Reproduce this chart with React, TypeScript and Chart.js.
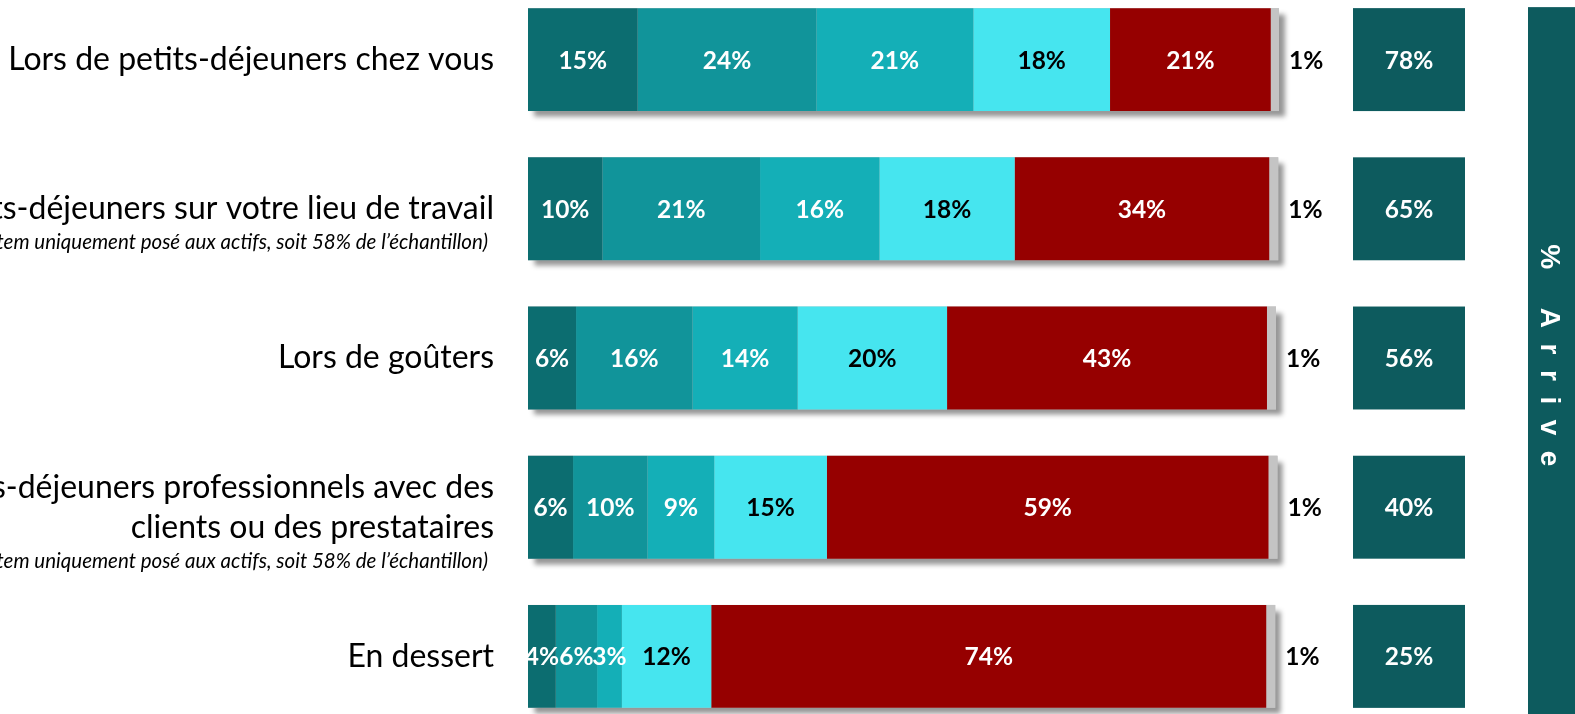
import React, { useEffect, useRef } from 'react';
import { Chart, registerables } from 'chart.js';

Chart.register(...registerables);

// ---- Data ----
const categories: string[][] = [
  ['Lors de petits-déjeuners chez vous'],
  ['Lors de petits-déjeuners sur votre lieu de travail'],
  ['Lors de goûters'],
  ['Lors de petits-déjeuners professionnels avec des', 'clients ou des prestataires'],
  ['En dessert'],
];
const notes: string[] = [
  '',
  '(Item uniquement posé aux actifs, soit 58% de l’échantillon)',
  '',
  '(Item uniquement posé aux actifs, soit 58% de l’échantillon)',
  '',
];
const seriesNames: string[] = [
  'Très souvent',
  'Souvent',
  'De temps en temps',
  'Rarement',
  'Jamais',
  'Ne se prononce pas',
];
const tresSouvent: number[] = [14.6, 9.9, 6.4, 6.0, 3.7];
const souvent: number[] = [23.8, 21.0, 15.5, 9.9, 5.5];
const deTempsEnTemps: number[] = [20.9, 15.9, 14.0, 8.9, 3.3];
const rarement: number[] = [18.2, 18.0, 19.9, 15.0, 11.9];
const jamais: number[] = [21.4, 33.9, 42.6, 58.8, 73.9];
const nsp: number[] = [1.1, 1.2, 1.2, 1.2, 1.2];
const arrive: number[] = [78, 65, 56, 40, 25];
const arriveTitle = '% Arrive';

// ---- Styles ----
const seriesColors = ['#0C6D70', '#11949A', '#14AFB7', '#46E5EF', '#960000', '#C4C4C4'];
const labelColors = ['#FFFFFF', '#FFFFFF', '#FFFFFF', '#000000', '#FFFFFF', '#000000'];
const boxColor = '#0D5B5E';
const FONT = 'Lato';

const decorPlugin = {
  id: 'decor',
  beforeDatasetsDraw(chart: any) {
    const ctx = chart.ctx;
    const n = chart.data.datasets.length;
    const first = chart.getDatasetMeta(0);
    const last = chart.getDatasetMeta(n - 1);
    const x0 = chart.scales.x.getPixelForValue(0);
    ctx.save();
    ctx.shadowColor = 'rgba(0,0,0,0.42)';
    ctx.shadowBlur = 5;
    ctx.shadowOffsetX = 6;
    ctx.shadowOffsetY = 6;
    ctx.fillStyle = '#bdbdbd';
    first.data.forEach((bar: any, i: number) => {
      const p = bar.getProps(['y', 'height'], true);
      const e = last.data[i].getProps(['x'], true);
      ctx.fillRect(x0, p.y - p.height / 2, e.x - x0, p.height);
    });
    ctx.restore();
  },
  afterDatasetsDraw(chart: any) {
    const ctx = chart.ctx;
    const n = chart.data.datasets.length;
    const area = chart.chartArea;
    ctx.save();
    // segment labels
    ctx.font = `bold 24.5px ${FONT}`;
    ctx.textBaseline = 'middle';
    for (let d = 0; d < n; d++) {
      const meta = chart.getDatasetMeta(d);
      const values = chart.data.datasets[d].data as number[];
      meta.data.forEach((bar: any, i: number) => {
        const p = bar.getProps(['x', 'y', 'base'], true);
        const txt = `${Math.round(values[i])}%`;
        ctx.fillStyle = labelColors[d];
        if (d === n - 1) {
          ctx.textAlign = 'left';
          ctx.fillText(txt, p.x + 10, p.y + 1);
        } else {
          ctx.textAlign = 'center';
          ctx.fillText(txt, (p.x + p.base) / 2, p.y + 1);
        }
      });
    }
    // % Arrive cells
    const first = chart.getDatasetMeta(0);
    const boxLeft = area.right + 74;
    const boxW = 112;
    first.data.forEach((bar: any, i: number) => {
      const p = bar.getProps(['y', 'height'], true);
      ctx.fillStyle = boxColor;
      ctx.fillRect(boxLeft, p.y - p.height / 2, boxW, p.height);
      ctx.fillStyle = '#FFFFFF';
      ctx.textAlign = 'center';
      ctx.fillText(`${arrive[i]}%`, boxLeft + boxW / 2, p.y + 1);
    });
    // banner
    const p0 = first.data[0].getProps(['y', 'height'], true);
    const bannerLeft = area.right + 249;
    const bannerTop = p0.y - p0.height / 2 - 1;
    ctx.fillStyle = boxColor;
    ctx.fillRect(bannerLeft, bannerTop, chart.width - bannerLeft, chart.height - bannerTop);
    ctx.translate(bannerLeft + 21, (area.top + area.bottom) / 2);
    ctx.rotate(Math.PI / 2);
    ctx.fillStyle = '#FFFFFF';
    ctx.font = 'bold 28px "Liberation Sans"';
    (ctx as any).letterSpacing = '15.5px';
    ctx.textAlign = 'center';
    ctx.textBaseline = 'middle';
    ctx.fillText(arriveTitle, 5, 0);
    ctx.restore();

    // notes under category labels
    ctx.save();
    const y = chart.scales.y;
    ctx.font = `italic 20.5px ${FONT}`;
    ctx.fillStyle = '#000000';
    ctx.textAlign = 'right';
    ctx.textBaseline = 'middle';
    notes.forEach((t, i) => {
      if (!t) return;
      const lines = categories[i].length;
      const cy = y.getPixelForValue(i) + ((lines - 1) * 40) / 2 + 34;
      ctx.fillText(t, area.left - 40, cy);
    });
    ctx.restore();
  },
};

export default function App() {
  const ref = useRef<HTMLCanvasElement>(null);
  useEffect(() => {
    if (!ref.current) return;
    const series = [tresSouvent, souvent, deTempsEnTemps, rarement, jamais, nsp];
    const chart = new Chart(ref.current, {
      type: 'bar',
      data: {
        labels: categories,
        datasets: series.map((s, i) => ({
          label: seriesNames[i],
          data: s,
          backgroundColor: seriesColors[i],
          borderWidth: 0,
          categoryPercentage: 0.69,
          barPercentage: 1,
        })),
      },
      options: {
        indexAxis: 'y',
        animation: false,
        responsive: false,
        devicePixelRatio: 1,
        layout: { padding: { left: 0, right: 296, top: 0, bottom: 0 } },
        plugins: { legend: { display: false }, tooltip: { enabled: false } },
        scales: {
          x: { stacked: true, min: 0, max: 100, display: false },
          y: {
            stacked: true,
            grid: { display: false, drawTicks: false },
            border: { display: false },
            ticks: {
              autoSkip: false,
              color: '#000000',
              padding: 34,
              font: { family: FONT, size: 32, lineHeight: 1.25 },
            },
            afterFit: (s: any) => {
              s.width = 528;
              s.paddingTop = 0;
              s.paddingBottom = 0;
            },
          },
        },
      },
      plugins: [decorPlugin],
    } as any);
    return () => chart.destroy();
  }, []);
  return (
    <div style={{ position: 'fixed', left: 0, top: 0, width: 1575, height: 714, overflow: 'hidden', background: '#fff' }}>
      <canvas ref={ref} width={1575} height={746} style={{ position: 'absolute', left: 0, top: -15, width: 1575, height: 746 }} />
    </div>
  );
}
